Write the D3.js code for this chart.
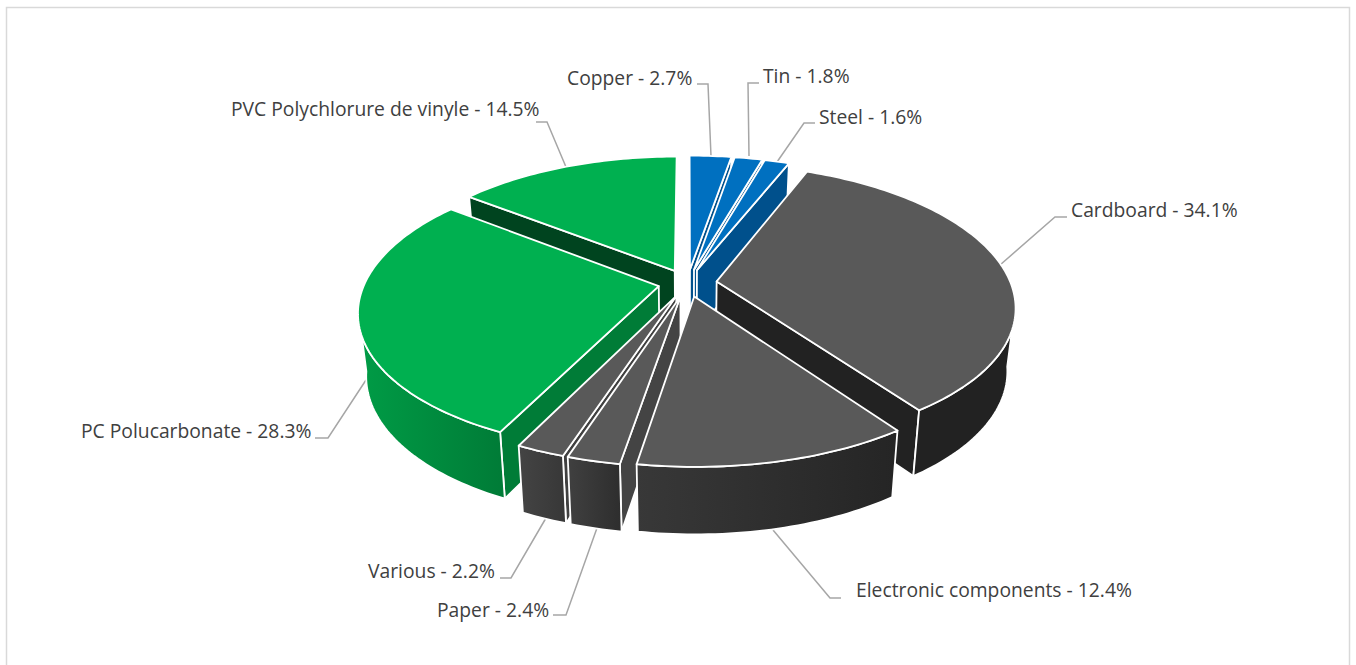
<!DOCTYPE html>
<html><head><meta charset="utf-8">
<script src="https://cdn.jsdelivr.net/npm/d3@7"></script>
<style>html,body{margin:0;padding:0;background:#fff}svg{display:block}text{font-family:"Open Sans",sans-serif;font-size:19.3px;fill:#404040}</style>
</head><body><svg id="c" width="1356" height="665"></svg>
<script>
const categories=["Copper","Tin","Steel","Cardboard","Electronic components","Paper","Various","PC Polucarbonate","PVC Polychlorure de vinyle"];
const shares=[2.7,1.8,1.6,34.1,12.4,2.4,2.2,28.3,14.5];
const tickLabels=["Copper - 2.7%","Tin - 1.8%","Steel - 1.6%","Cardboard - 34.1%","Electronic components - 12.4%","Paper - 2.4%","Various - 2.2%","PC Polucarbonate - 28.3%","PVC Polychlorure de vinyle - 14.5%"];
const topColors=["#0070c0","#0070c0","#0070c0","#595959","#595959","#595959","#595959","#00b050","#00b050"];
const cutColors=["#00508c","#00508c","#00508c","#222222","#404040","#444444","#404040","#007c37","#00441f"];
const wallFrom=["#0062a8","#0062a8","#0062a8","#222222","#383838","#404040","#444444","#009c46","#00a049"];
const wallTo=["#00508c","#00508c","#00508c","#222222","#252525","#2e2e2e","#383838","#007c37","#00a049"];
const labelX=[567,763,819,1071,856,437,368,81,231];
const labelY=[85,83,124,217,597,617,578,438,116];
const leaderLines=[
 [[697,84],[708,84],[711,156]],
 [[759,83],[748,83],[749,156]],
 [[815,123],[804,123],[777,162]],
 [[1067,217],[1055,217],[1000,265]],
 [[841,598],[830,598],[773,530]],
 [[553,615],[566,615],[597,528]],
 [[500,578],[511,578],[546,518]],
 [[315,438],[328,438],[366,380]],
 [[536,122],[547,122],[566,167]]];
// drawing order, far to near
const paintOrder=[8,0,1,2,3,7,6,5,4];

const cx=687.5,cy=283,R=294,ky=137,perspX=.175,perspY=.166,explode=.1,zShrink=.975;
function project(u,v,bottom){
  const wx=1/(1-perspX*v),wy=1/(1-perspY*v);
  const s=bottom?zShrink:1;
  return [cx+R*u*wx*s, cy+ky*v*wy+(bottom?37+25*wy:0)];
}
const svg=d3.select("#c");
svg.append("path").attr("d","M6.5,665V7.5H1349.5V665").attr("fill","none").attr("stroke","#d9d9d9").attr("stroke-width",1.5);
const defs=svg.append("defs");
svg.append("g").selectAll("path").data(leaderLines).join("path")
  .attr("d",d3.line()).attr("fill","none").attr("stroke","#a6a6a6").attr("stroke-width",1.5);

const arcs=d3.pie().sort(null).value(d=>d)(shares);
const line=d3.line();
const g=svg.append("g");
paintOrder.forEach(i=>{
  const a=arcs[i],mid=(a.startAngle+a.endAngle)/2;
  const ou=explode*Math.sin(mid),ov=-explode*Math.cos(mid);
  const rim=(t)=>[ou+Math.sin(t),ov-Math.cos(t)];
  const n=Math.max(4,Math.ceil((a.endAngle-a.startAngle)/0.02));
  const ts=d3.range(n+1).map(k=>a.startAngle+(a.endAngle-a.startAngle)*k/n);
  const topArc=ts.map(t=>project(...rim(t),false));
  const botArc=ts.map(t=>project(...rim(t),true));
  const apexT=project(ou,ov,false),apexB=project(ou,ov,true);
  const sg=g.append("g").attr("stroke","#fff").attr("stroke-width",1.8).attr("stroke-linejoin","round");
  const quad=(p,fill)=>sg.append("path").attr("d",line(p)+"Z").attr("fill",fill);
  // only the cut faces turned to the viewer
  if(a.startAngle>Math.PI) quad([apexT,topArc[0],botArc[0],apexB],cutColors[i]);
  if(a.endAngle<Math.PI) quad([apexT,topArc[n],botArc[n],apexB],cutColors[i]);
  // only the part of the outer wall that faces the viewer
  const front=ts.map((t,k)=>k).filter(k=>Math.cos(ts[k])<-0.15);
  if(front.length>1){
    const wt=front.map(k=>topArc[k]),wb=front.map(k=>botArc[k]);
    const xs=d3.extent(wt,d=>d[0]);
    const id="w"+i;
    const gr=defs.append("linearGradient").attr("id",id).attr("gradientUnits","userSpaceOnUse")
      .attr("x1",xs[0]).attr("x2",xs[1]).attr("y1",0).attr("y2",0);
    gr.append("stop").attr("offset",0).attr("stop-color",wallFrom[i]);
    gr.append("stop").attr("offset",1).attr("stop-color",wallTo[i]);
    quad(wt.concat(wb.slice().reverse()),`url(#${id})`);
  }
  quad([apexT].concat(topArc),topColors[i]);
});
svg.append("g").selectAll("text").data(tickLabels).join("text")
  .attr("x",(d,i)=>labelX[i]).attr("y",(d,i)=>labelY[i]).text(d=>d);
</script></body></html>
